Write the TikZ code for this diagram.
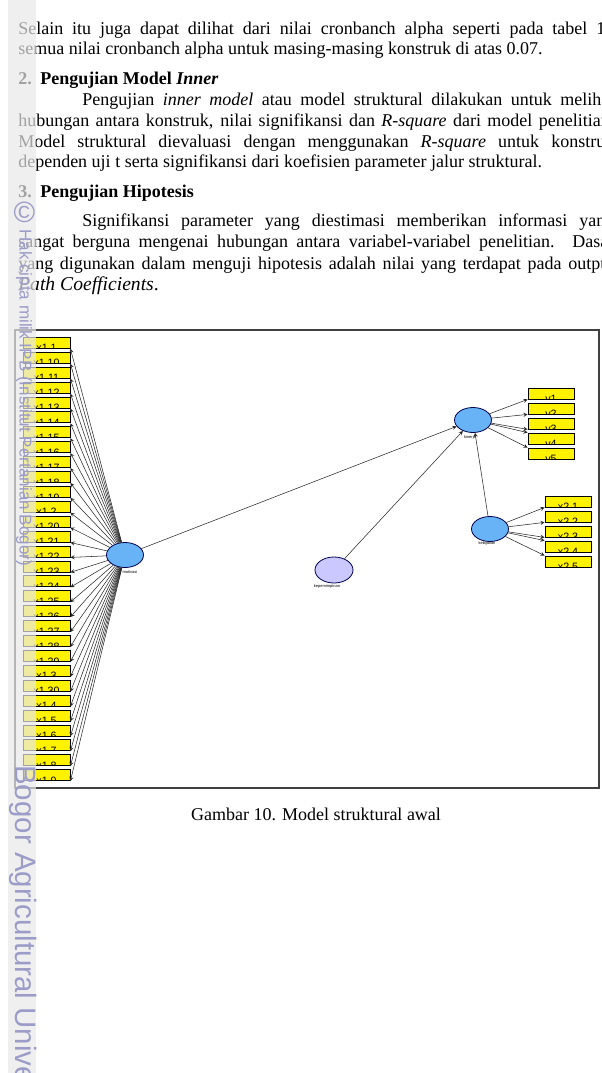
\documentclass[tikz,border=0pt]{standalone}
\usepackage{fontspec}
\setmainfont{Liberation Serif}
\newfontfamily\wmfont{Liberation Sans}
\usetikzlibrary{positioning, arrows, shapes.geometric}
\definecolor{latblue}{RGB}{104,178,246}
\definecolor{latpurple}{RGB}{202,200,255}
\definecolor{wmblue}{RGB}{156,156,200}
\definecolor{stripgray}{RGB}{232,232,232}
\tikzset{
  >=stealth,
  every node/.style={inner sep=0pt},
  txt/.style={anchor=base west, font=\fontsize{13.5}{15}\selectfont},
  lat/.style={ellipse, draw=black!70!blue, line width=0.6pt, fill=latblue,
    minimum width=27.75pt, minimum height=18.75pt},
  ind/.style={draw=black, fill=yellow, line width=0.6pt,
    minimum width=35pt, minimum height=8.25pt,
    path picture={\node[font=\wmfont\fontsize{8}{8}\selectfont, anchor=base]
      at ([yshift=-2.7pt]path picture bounding box.south) {#1};}},
  tag/.style={font=\wmfont\fontsize{3}{3}\selectfont},
  link/.style={->, line width=0.4pt, black!85},
  wm/.style={text=wmblue, rotate=-90, anchor=west},
}

\begin{document}
\begin{tikzpicture}[x=0.75pt, y=-0.75pt]
  \useasboundingbox (0,0) rectangle (601,1073);

  % body text
  \node[txt] (l1) at (18,34.3) {\makebox[447pt][s]{Selain itu juga dapat dilihat dari nilai cronbanch alpha seperti pada tabel 10}};
  \node[txt] (l2) at (18,55) {semua nilai cronbanch alpha untuk masing-masing konstruk di atas 0.07.};
  \node[txt] (h2n) at (18,85) {\textbf{2.}};
  \node[txt] (h2) at (40,85) {\textbf{Pengujian Model \textit{Inner}}};
  \node[txt] (p1a) at (82,106) {\makebox[399pt][s]{Pengujian \textit{inner model} atau model struktural dilakukan untuk melihat}};
  \node[txt] (p1b) at (18,126.5) {\makebox[447pt][s]{hubungan antara konstruk, nilai signifikansi dan \textit{R-square} dari model penelitian.}};
  \node[txt] (p1c) at (18,147.3) {\makebox[447pt][s]{Model struktural dievaluasi dengan menggunakan \textit{R-square} untuk konstruk}};
  \node[txt] (p1d) at (18,167.7) {dependen uji t serta signifikansi dari koefisien parameter jalur struktural.};
  \node[txt] (h3n) at (18,197.3) {\textbf{3.}};
  \node[txt] (h3) at (40,197.3) {\textbf{Pengujian Hipotesis}};
  \node[txt] (p2a) at (82,226.7) {\makebox[399pt][s]{Signifikansi parameter yang diestimasi memberikan informasi yang}};
  \node[txt] (p2b) at (18,247.7) {\makebox[447pt][s]{sangat berguna mengenai hubungan antara variabel-variabel penelitian. Dasar}};
  \node[txt] (p2c) at (18,269) {\makebox[447pt][s]{yang digunakan dalam menguji hipotesis adalah nilai yang terdapat pada output}};
  \node[txt, font=\fontsize{14.7}{16}\selectfont] (p2d) at (18,290) {\textit{Path Coefficients}.};

  % model
  \draw[black!75, line width=0.8pt] (15,330) rectangle (599,788);

  \node[lat] (mot) at (125,555) {};
  \node[lat] (kin) at (473,420) {};
  \node[lat] (keb) at (490,529) {};
  \node[lat, fill=latpurple, minimum width=28.5pt, minimum height=19.5pt] (kep) at (334,570) {};
  \node[tag] (tmot) at (130,572) {motivasi};
  \node[tag] (tkin) at (470,437) {kinerja};
  \node[tag] (tkeb) at (487,543) {kebijakan};
  \node[tag] (tkep) at (327,586) {kepemimpinan};

  \foreach \lab [count=\i] in {1,10,11,12,13,14,15,16,17,18,19,2,20,21,22,23,24,25,26,27,28,29,3,30,4,5,6,7,8,9} {
    \node[ind={x1 \lab}, minimum width=35.25pt] (a\i) at (46.5,{342.8+14.91*(\i-1)}) {};
    \draw[link] (mot) -- (a\i.south east);
  }
  \foreach \k/\a in {1/south west,2/south west,3/south west,4/north west,5/north west} {
    \node[ind={y\k}, minimum width=34.5pt] (y\k) at (551,{393.5+15*(\k-1)}) {};
    \draw[link] (kin) -- (y\k.\a);
    \node[ind={x2 \k}, minimum width=34.5pt] (c\k) at (568,{501.5+15*(\k-1)}) {};
    \draw[link] (keb) -- (c\k.\a);
  }

  \draw[link] (mot) -- (kin);
  \draw[link] (kep) -- (kin);
  \draw[link] (keb) -- (kin);

  \node[anchor=base, font=\fontsize{13.5}{15}\selectfont] (cap) at (316,820) {Gambar 10. Model struktural awal};

  % watermark
  \fill[stripgray, opacity=0.7] (8,0) rectangle (36,1073);
  \node[text=wmblue, font=\wmfont\fontsize{22}{22}\selectfont] (wmc) at (24.5,212) {\textcopyright};
  \node[wm, font=\wmfont\fontsize{12.8}{13}\selectfont] (wmhak) at (24,229) {Hak cipta milik IPB (Institut Pertanian Bogor)};
  \node[wm, font=\wmfont\fontsize{22.1}{23}\selectfont] (wmbog) at (23,765) {Bogor Agricultural University};
\end{tikzpicture}
\end{document}
